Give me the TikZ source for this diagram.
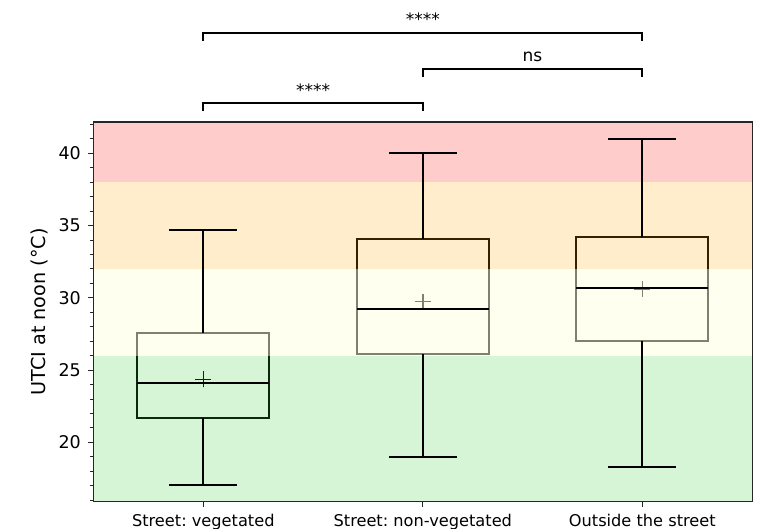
\documentclass[tikz,border=0pt]{standalone}
\usepackage{fontspec}
\setmainfont{DejaVu Sans}
\definecolor{bandred}{RGB}{255,0,0}
\definecolor{bandorange}{RGB}{255,165,0}
\definecolor{bandyellow}{RGB}{255,255,224}
\definecolor{bandgreen}{RGB}{50,205,50}
\frenchspacing
\begin{document}
\frenchspacing
\begin{tikzpicture}[x=1pt,y=1pt,
  boxline/.style={line width=2pt, black},
  whisk/.style={line width=2pt, black},
  medline/.style={line width=2pt, black},
  meanmark/.style={line width=1.4pt, black},
  spine/.style={line width=1.1pt, black!85},
  majtick/.style={line width=1.1pt, black!85},
  mintick/.style={line width=0.8pt, black!85},
  bracket/.style={line width=2pt, black},
  ytl/.style={anchor=east, inner sep=0pt, font=\fontsize{17.5}{20}\selectfont},
  xtl/.style={anchor=base, inner sep=0pt, font=\fontsize{16.2}{19}\selectfont},
  annot/.style={anchor=base, inner sep=0pt, font=\fontsize{17}{20}\selectfont}]
\useasboundingbox (0,0) rectangle (760,-529);
\begin{scope}[shift={(203.3,-731.3)}, x=219.5pt, y=14.45pt]
  % boxes (under the bands)
  \draw[boxline] (-0.3,21.7) rectangle (0.3,27.55);
  \draw[boxline] (0.7,26.09) rectangle (1.3,34.05);
  \draw[boxline] (1.7,27.0) rectangle (2.3,34.19);
  % mean markers
  \foreach \i/\m in {0/24.36, 1/29.73, 2/30.6}
    \draw[meanmark] (\i,\m) ++(-8pt,0) -- ++(16pt,0) (\i,\m) ++(0,-8pt) -- ++(0,16pt);
  % UTCI bands
  \fill[bandred, fill opacity=0.2] (-0.5,38) rectangle (2.5,42.166);
  \fill[bandorange, fill opacity=0.2] (-0.5,32) rectangle (2.5,38);
  \fill[bandyellow, fill opacity=0.5] (-0.5,26) rectangle (2.5,32);
  \fill[bandgreen, fill opacity=0.2] (-0.5,15.889) rectangle (2.5,26);
  % whiskers, caps, medians
  \foreach \i/\lo/\qa/\md/\qc/\hi in {0/17.05/21.7/24.1/27.55/34.69, 1/19.0/26.09/29.2/34.05/40.0, 2/18.27/27.0/30.66/34.19/41.0}{
    \draw[whisk] (\i,\qa) -- (\i,\lo);
    \draw[whisk] (\i,\qc) -- (\i,\hi);
    \draw[whisk] (\i-0.155,\lo) -- (\i+0.155,\lo);
    \draw[whisk] (\i-0.155,\hi) -- (\i+0.155,\hi);
    \draw[medline] (\i-0.3,\md) -- (\i+0.3,\md);
  }
  % spines
  \draw[spine] (-0.5,15.889) rectangle (2.5,42.166);
  % y ticks
  \foreach \v in {16,17,18,19,21,22,23,24,26,27,28,29,31,32,33,34,36,37,38,39,41,42}
    \draw[mintick] (-0.5,\v) -- ++(-3.2pt,0);
  \foreach \v in {20,25,30,35,40}{
    \draw[majtick] (-0.5,\v) -- ++(-5.5pt,0);
    \node[ytl, xshift=-12.5pt] (yt\v) at (-0.5,\v) {\v};
  }
  % x ticks
  \foreach \i in {0,1,2}
    \draw[majtick] (\i,15.889) -- ++(0,-5.5pt);
  \node[xtl, yshift=-24.3pt] (xl0) at (0,15.889) {Street: vegetated};
  \node[xtl, yshift=-24.3pt] (xl1) at (1,15.889) {Street: non-vegetated};
  \node[xtl, yshift=-24.3pt] (xl2) at (2,15.889) {Outside the street};
\end{scope}
% y label
\node[anchor=base, rotate=90, inner sep=0pt, font=\fontsize{19.2}{22}\selectfont] (ylab) at (45.5,-312) {UTCI at noon (°C)};
% significance brackets
\coordinate (a1) at (203.3,-111); \coordinate (a2) at (203.3,-102.7);
\coordinate (a3) at (422.8,-102.7); \coordinate (a4) at (422.8,-111);
\coordinate (b1) at (422.8,-77); \coordinate (b2) at (422.8,-69);
\coordinate (b3) at (642.3,-69); \coordinate (b4) at (642.3,-77);
\coordinate (c1) at (203.3,-41); \coordinate (c2) at (203.3,-33);
\coordinate (c3) at (642.3,-33); \coordinate (c4) at (642.3,-41);
\draw[bracket] (a1) -- (a2) -- (a3) -- (a4);
\draw[bracket] (b1) -- (b2) -- (b3) -- (b4);
\draw[bracket] (c1) -- (c2) -- (c3) -- (c4);
\node[annot] (s1) at (313,-96.5) {****};
\node[annot] (s2) at (532.5,-61.3) {ns};
\node[annot] (s3) at (422.8,-25.5) {****};
\end{tikzpicture}
\end{document}
